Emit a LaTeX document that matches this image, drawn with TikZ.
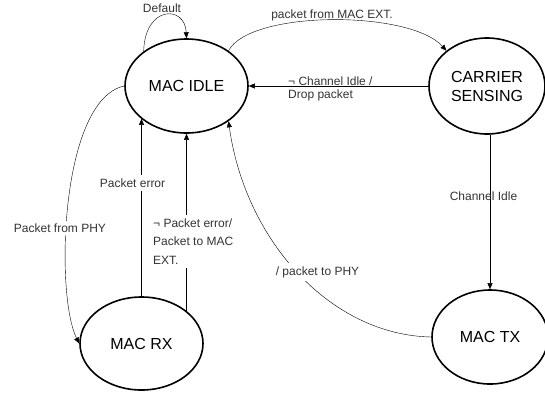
\documentclass[tikz,border=0pt]{standalone}
\usepackage{fontspec}
\setmainfont{Liberation Sans}
\usetikzlibrary{shapes.geometric,arrows.meta}

\begin{document}
\begin{tikzpicture}[x=1pt,y=-1pt,
	state/.style={ellipse,draw,line width=1.6pt,inner sep=0pt,font=\fontsize{16}{19}\selectfont},
	lbl/.style={text=black!80,font=\fontsize{12}{14}\selectfont,inner sep=3pt},
	>={Triangle[length=6pt,width=5pt]}]
	\useasboundingbox (0,0) rectangle (545,399);

	\node[state,minimum width=123pt,minimum height=94pt] (idle) at (186.5,86) {MAC IDLE};
	\node[state,minimum width=116pt,minimum height=96pt,align=center] (carrier) at (487,86) {CARRIER\\SENSING};
	\node[state,minimum width=123pt,minimum height=93pt] (rx) at (141.5,343.5) {MAC RX};
	\node[state,minimum width=116pt,minimum height=94pt] (tx) at (490,337) {MAC TX};

	\draw[->] (idle.141) .. controls (145,5) and (185,5) .. (idle.north);
	\draw[->] (idle.40) .. controls (250,10) and (410,10) .. (carrier.139);
	\draw[->] (carrier.west) -- (idle.east);
	\draw[->] (carrier.south -| tx.north) -- (tx.north);
	\draw[->] (tx.west) .. controls (330,335) and (245,240) .. (idle.-40);
	\draw[->] (idle.west) .. controls (60,100) and (55,295) .. (rx.west);
	\draw[->] (rx.north) -- (rx.north |- idle.216);
	\draw[->] (idle.south |- rx.36) -- (idle.south);

	\node[lbl] (lDefault) at (162,8) {Default};
	\node[lbl] (lExt) at (332,15) {packet from MAC EXT.};
	\node[lbl,align=left,anchor=west,font=\fontsize{12}{13}\selectfont] (lDrop) at (285,88.5) {¬ Channel Idle /\\Drop packet};
	\node[lbl] (lIdle) at (483.5,196) {Channel Idle};
	\node[lbl,fill=white] (lTx) at (317.5,272) {/ packet to PHY};
	\node[lbl,fill=white] (lPhy) at (60,228) {Packet from PHY};
	\node[lbl,fill=white,inner sep=4pt] (lErr) at (132.5,183) {Packet error};
	\node[lbl,fill=white,inner sep=4pt,align=left,anchor=west,font=\fontsize{12}{18.5}\selectfont] (lOk) at (149,241.5) {¬ Packet error/\\Packet to MAC\\EXT.};
\end{tikzpicture}
\end{document}
